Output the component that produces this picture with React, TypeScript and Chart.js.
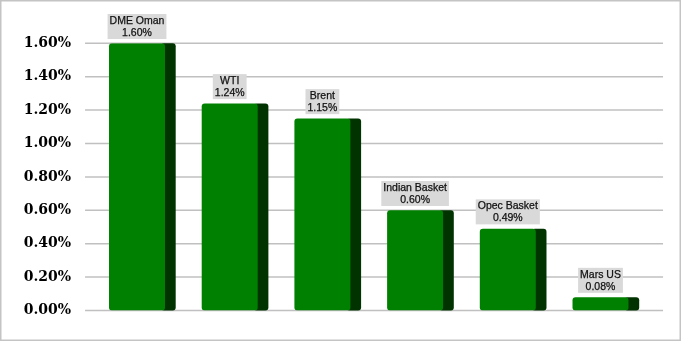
import React, { useEffect, useRef } from "react";
import { Chart, registerables } from "chart.js";

Chart.register(...registerables);

const categories = ["DME Oman", "WTI", "Brent", "Indian Basket", "Opec Basket", "Mars US"];
const values = [1.6, 1.24, 1.15, 0.6, 0.49, 0.08];
const valueLabels = ["1.60%", "1.24%", "1.15%", "0.60%", "0.49%", "0.08%"];

const FRONT = "#008000";
const SIDE = "#003300";
const SIDE_W = 10.7;

const deco = {
  id: "deco",
  beforeDraw(chart: any) {
    const { ctx, chartArea, scales } = chart;
    ctx.save();
    ctx.fillStyle = "#ffffff";
    ctx.fillRect(0, 0, chart.width, chart.height);
    const y = scales.y;
    ctx.strokeStyle = "#c0c0c0";
    ctx.lineWidth = 1.5;
    y.ticks.forEach((t: any) => {
      const py = y.getPixelForValue(t.value);
      ctx.beginPath();
      ctx.moveTo(chartArea.left - 5.6, py);
      ctx.lineTo(chartArea.right + 16.2, py);
      ctx.stroke();
    });
    ctx.restore();
  },
  beforeDatasetsDraw(chart: any) {
    const { ctx } = chart;
    const meta = chart.getDatasetMeta(0);
    ctx.save();
    meta.data.forEach((el: any) => {
      const x0 = el.x + el.width / 2 - 4;
      const top = Math.min(el.y, el.base);
      const h = Math.abs(el.base - el.y);
      ctx.fillStyle = SIDE;
      ctx.beginPath();
      ctx.roundRect(x0, top, SIDE_W + 4, h, 3);
      ctx.fill();
    });
    ctx.restore();
  },
  afterDatasetsDraw(chart: any) {
    const { ctx } = chart;
    const meta = chart.getDatasetMeta(0);
    ctx.save();
    ctx.font = '10.5px "Liberation Sans"';
    ctx.textAlign = "center";
    ctx.textBaseline = "middle";
    meta.data.forEach((el: any, i: number) => {
      const l1 = categories[i];
      const l2 = valueLabels[i];
      const w = Math.max(ctx.measureText(l1).width, ctx.measureText(l2).width) + 4;
      const h = 25;
      const bottom = el.y - 4.3;
      const top = bottom - h;
      ctx.fillStyle = "#d9d9d9";
      ctx.fillRect(el.x - w / 2, top, w, h);
      ctx.fillStyle = "#111111";
      ctx.strokeStyle = "#111111";
      ctx.lineWidth = 0.25;
      ctx.fillText(l1, el.x, top + 7);
      ctx.strokeText(l1, el.x, top + 7);
      ctx.fillText(l2, el.x, top + 19);
      ctx.strokeText(l2, el.x, top + 19);
    });
    ctx.restore();
  },
  afterDraw(chart: any) {
    const { ctx } = chart;
    ctx.save();
    ctx.strokeStyle = "#c4c4c4";
    ctx.lineWidth = 1.5;
    ctx.strokeRect(0.75, 0.75, chart.width - 1.5, chart.height - 1.5);
    ctx.restore();
  },
};

export default function App() {
  const ref = useRef<HTMLCanvasElement | null>(null);
  useEffect(() => {
    document.body.style.margin = "0";
    const chart = new Chart(ref.current as HTMLCanvasElement, {
      type: "bar",
      data: {
        labels: categories,
        datasets: [
          {
            data: values,
            backgroundColor: FRONT,
            borderRadius: 3,
            borderSkipped: false,
            barPercentage: 0.604,
            categoryPercentage: 1,
          },
        ],
      },
      options: {
        animation: false,
        responsive: true,
        maintainAspectRatio: false,
        layout: { padding: { left: 0, right: 34.15, top: 43.3, bottom: 30.5 } },
        plugins: { legend: { display: false }, tooltip: { enabled: false } },
        scales: {
          x: { display: false },
          y: {
            min: 0,
            max: 1.6,
            afterFit: (s: any) => {
              s.width = 90.65;
            },
            ticks: {
              stepSize: 0.2,
              padding: 19.6,
              color: "#000000",
              font: { family: "DejaVu Serif", weight: "bold", size: 14 },
              callback: (v: any) => Number(v).toFixed(2) + "%",
            },
            grid: { display: false, drawTicks: false },
            border: { display: false },
          },
        },
      },
      plugins: [deco],
    });
    return () => chart.destroy();
  }, []);
  return (
    <div style={{ position: "absolute", left: 0, top: 0, width: 681, height: 341 }}>
      <canvas ref={ref} />
    </div>
  );
}
